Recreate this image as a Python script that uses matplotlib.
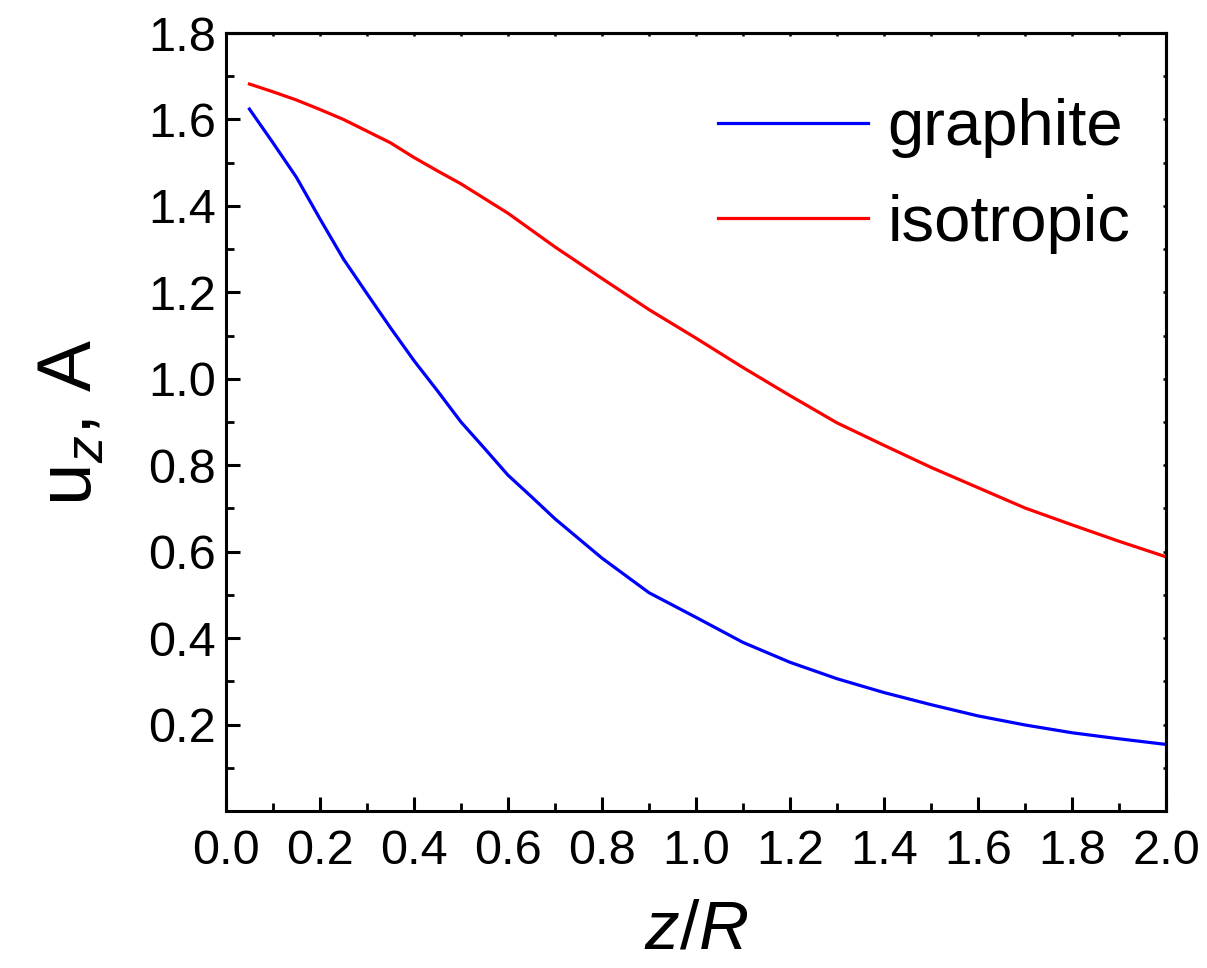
import matplotlib
matplotlib.use("Agg")
import matplotlib.pyplot as plt
from matplotlib.ticker import MultipleLocator, FixedLocator

plt.rcParams['font.family'] = ['Liberation Sans', 'DejaVu Sans']
plt.rcParams['mathtext.fontset'] = 'custom'
plt.rcParams['mathtext.rm'] = 'Liberation Sans'
plt.rcParams['mathtext.it'] = 'Liberation Sans:italic'

# Data
z_iso = [0.05, 0.1, 0.15, 0.2, 0.25, 0.3, 0.35, 0.4, 0.45, 0.5, 0.6, 0.7, 0.8, 0.9,
         1.0, 1.1, 1.2, 1.3, 1.4, 1.5, 1.6, 1.7, 1.8, 1.9, 2.0]
u_iso = [1.682, 1.664, 1.645, 1.623, 1.600, 1.573, 1.546, 1.512, 1.481, 1.451, 1.383,
         1.305, 1.232, 1.160, 1.094, 1.026, 0.961, 0.898, 0.846, 0.795, 0.748, 0.701,
         0.662, 0.624, 0.588]

z_gra = [0.05, 0.1, 0.15, 0.2, 0.25, 0.3, 0.35, 0.4, 0.45, 0.5, 0.55, 0.6, 0.65, 0.7,
         0.8, 0.9, 1.0, 1.1, 1.2, 1.3, 1.4, 1.5, 1.6, 1.7, 1.8, 1.9, 2.0]
u_gra = [1.624, 1.546, 1.466, 1.370, 1.277, 1.197, 1.118, 1.042, 0.972, 0.900, 0.839,
         0.777, 0.727, 0.676, 0.585, 0.505, 0.448, 0.390, 0.344, 0.306, 0.274, 0.246,
         0.220, 0.199, 0.181, 0.167, 0.154]

series_labels = ["graphite", "isotropic"]
xticks = [0.0, 0.2, 0.4, 0.6, 0.8, 1.0, 1.2, 1.4, 1.6, 1.8, 2.0]
yticks = [0.2, 0.4, 0.6, 0.8, 1.0, 1.2, 1.4, 1.6, 1.8]

fig = plt.figure(figsize=(12.07, 9.68), dpi=100)
ax = fig.add_axes([0.1872, 0.1622, 0.7789, 0.8037])

ax.plot(z_gra, u_gra, color='#0000ff', lw=2.3, label=series_labels[0])
ax.plot(z_iso, u_iso, color='#ff0000', lw=2.3, label=series_labels[1])

ax.set_xlim(0.0, 2.0)
ax.set_ylim(0.0, 1.8)
ax.xaxis.set_major_locator(FixedLocator(xticks))
ax.yaxis.set_major_locator(FixedLocator(yticks))
ax.xaxis.set_minor_locator(MultipleLocator(0.1))
ax.yaxis.set_minor_locator(MultipleLocator(0.1))
ax.set_xticklabels([f"{v:.1f}" for v in xticks])
ax.set_yticklabels([f"{v:.1f}" for v in yticks])

for s in ax.spines.values():
    s.set_linewidth(2.2)

ax.tick_params(axis='both', which='major', direction='in', length=10, width=2.2,
               labelsize=35)
ax.tick_params(axis='both', which='minor', direction='in', length=5.5, width=2.0)
ax.tick_params(axis='x', which='major', pad=13)
ax.tick_params(axis='y', which='major', pad=7)

# small ticks on top and right
sx = ax.secondary_xaxis('top')
sx.xaxis.set_major_locator(MultipleLocator(0.1))
sx.tick_params(direction='in', length=2.5, width=1.8, labeltop=False)
sx.spines['top'].set_linewidth(2.2)
sy = ax.secondary_yaxis('right')
sy.yaxis.set_major_locator(MultipleLocator(0.1))
sy.tick_params(direction='in', length=2.5, width=1.8, labelright=False)
sy.spines['right'].set_linewidth(2.2)

ax.set_xlabel(r'$z$/$R$', fontsize=50)
ax.xaxis.set_label_coords(0.5, -0.113)
ax.set_ylabel(r'u$_{\mathit{z}}$, A', fontsize=55)
ax.yaxis.set_label_coords(-0.126, 0.5)

leg = ax.legend(loc='upper right', fontsize=47, frameon=False, handlelength=2.3,
                handletextpad=0.3, labelspacing=0.54, borderaxespad=0.15,
                bbox_to_anchor=(1.0, 0.962))

fig.savefig('out.png', dpi=100)
